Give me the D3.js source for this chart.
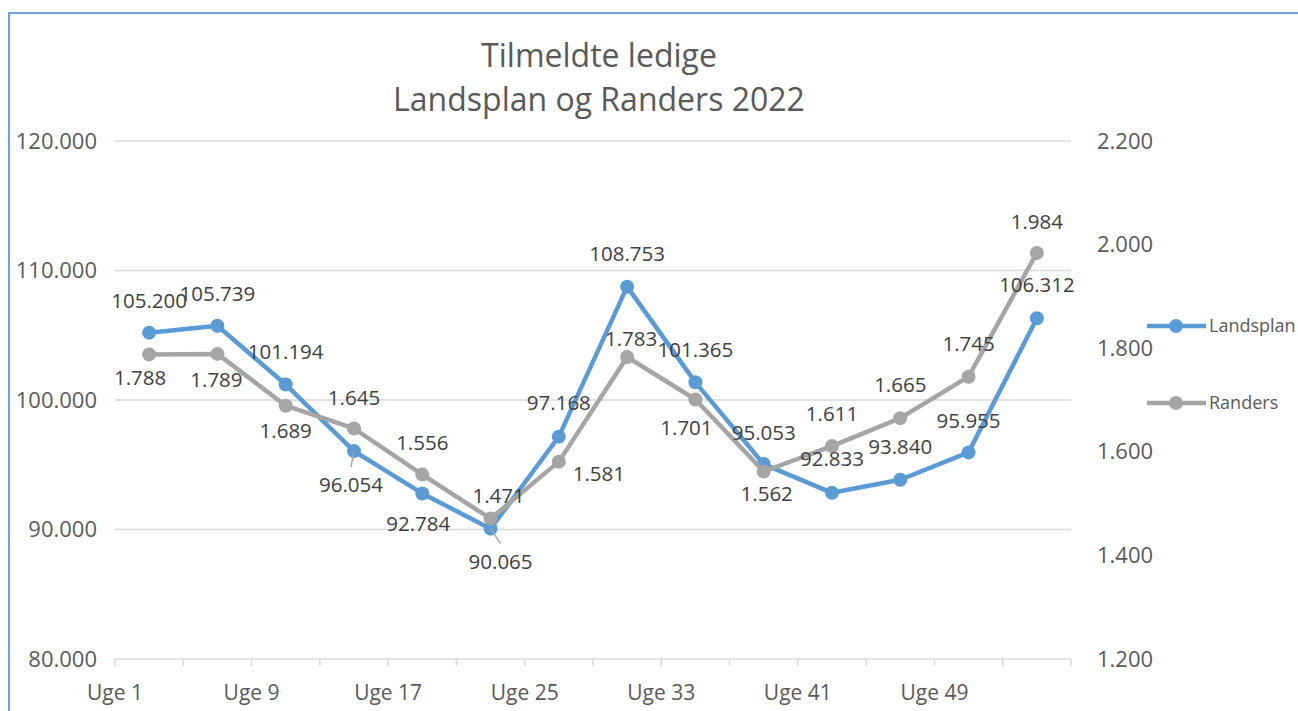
<!DOCTYPE html>
<html>
<head>
<meta charset="utf-8">
<script src="https://cdn.jsdelivr.net/npm/d3@7"></script>
<style>
  html, body { margin: 0; padding: 0; background: #fff; }
  svg { display: block; font-family: "Open Sans", "Noto Sans", sans-serif; }
</style>
</head>
<body>
<div id="chart"></div>
<script>
// weeks (every 4th week), only every other label is shown
var weeks = ["Uge 1", "Uge 5", "Uge 9", "Uge 13", "Uge 17", "Uge 21", "Uge 25",
             "Uge 29", "Uge 33", "Uge 37", "Uge 41", "Uge 45", "Uge 49", "Uge 52"];
var landsplan = [105200, 105739, 101194, 96054, 92784, 90065, 97168,
                 108753, 101365, 95053, 92833, 93840, 95955, 106312];
var randers = [1788, 1789, 1689, 1645, 1556, 1471, 1581,
               1783, 1701, 1562, 1611, 1665, 1745, 1984];
var leftTicks = [80000, 90000, 100000, 110000, 120000];
var rightTicks = [1200, 1400, 1600, 1800, 2000, 2200];

// label placement (offset of label centre from the point), like excel put them
var landLabelOff = [[0,-32],[0,-32],[0,-33],[-3,34],[-4,30],[10,33],[0,-34],
                    [0,-33],[0,-33],[0,-31],[0,-34],[0,-33],[0,-32],[0,-34]];
var randLabelOff = [[-9,23],[-1,26],[0,25],[0,-31],[0,-32],[8,-23],[40,12],
                    [4,-18],[-9,28],[3,22],[0,-32],[0,-34],[0,-33],[0,-31]];
var landLeader = [3, 5];

var W = 1298, H = 711;
var blue = "#5B9BD5", grey = "#A5A5A5";
var txt = "#595959", lbl = "#404040", grid = "#D9D9D9";
var fmt = d3.formatLocale({ decimal: ",", thousands: ".", grouping: [3], currency: ["", " kr."] }).format(",.0f");

var m = { left: 115, right: 1071, top: 141, bottom: 659 };

var svg = d3.select("#chart").append("svg")
  .attr("width", W).attr("height", H);

// chart border (only top/left visible)
svg.append("path")
  .attr("d", "M9," + (H + 5) + "V13H" + (W + 5))
  .attr("fill", "none")
  .attr("stroke", "#6FA3DA")
  .attr("stroke-width", 2);

// title
var title = svg.append("text")
  .attr("text-anchor", "middle")
  .attr("fill", txt)
  .style("font-size", "32px");
title.append("tspan").attr("x", 599).attr("y", 67).text("Tilmeldte ledige");
title.append("tspan").attr("x", 599).attr("y", 111).text("Landsplan og Randers 2022");

var x = d3.scaleBand().domain(weeks).range([m.left, m.right]);
var yL = d3.scaleLinear().domain([80000, 120000]).range([m.bottom, m.top]);
var yR = d3.scaleLinear().domain([1200, 2200]).range([m.bottom, m.top]);
var cx = function (d, i) { return x(weeks[i]) + x.bandwidth() / 2; };

// gridlines
svg.append("g").selectAll("line")
  .data(leftTicks.slice(1))
  .join("line")
  .attr("x1", m.left).attr("x2", m.right)
  .attr("y1", d => yL(d)).attr("y2", d => yL(d))
  .attr("stroke", grid).attr("stroke-width", 1.5);

// left axis
var axL = svg.append("g")
  .attr("transform", "translate(" + (m.left - 18) + ",0)")
  .call(d3.axisLeft(yL).tickValues(leftTicks).tickFormat(fmt).tickSize(0).tickPadding(0));
axL.select(".domain").remove();
axL.selectAll("text").attr("fill", txt).style("font-size", "22px").style("font-family", "Open Sans");

// right axis
var axR = svg.append("g")
  .attr("transform", "translate(" + (m.right + 26) + ",0)")
  .call(d3.axisRight(yR).tickValues(rightTicks).tickFormat(fmt).tickSize(0).tickPadding(0));
axR.select(".domain").remove();
axR.selectAll("text").attr("fill", txt).style("font-size", "22px").style("font-family", "Open Sans");

// x axis
var gx = svg.append("g").attr("transform", "translate(0," + m.bottom + ")");
gx.append("line")
  .attr("x1", m.left).attr("x2", m.right)
  .attr("stroke", grid).attr("stroke-width", 1.5);
gx.selectAll(".tk")
  .data(weeks.concat(["end"]))
  .join("line")
  .attr("class", "tk")
  .attr("x1", (d, i) => i < weeks.length ? x(d) : m.right)
  .attr("x2", (d, i) => i < weeks.length ? x(d) : m.right)
  .attr("y1", 0).attr("y2", 7)
  .attr("stroke", grid).attr("stroke-width", 1.5);
gx.selectAll(".xl")
  .data(weeks.filter((d, i) => i % 2 == 0))
  .join("text")
  .attr("class", "xl")
  .attr("x", d => x(d))
  .attr("y", 41)
  .attr("text-anchor", "middle")
  .attr("fill", txt)
  .style("font-size", "21px")
  .text(d => d);

function drawSeries(vals, y, color) {
  var g = svg.append("g");
  var line = d3.line().x(cx).y(d => y(d));
  g.append("path")
    .datum(vals)
    .attr("d", line)
    .attr("fill", "none")
    .attr("stroke", color)
    .attr("stroke-width", 4.5)
    .attr("stroke-linejoin", "round");
  g.selectAll("circle")
    .data(vals)
    .join("circle")
    .attr("cx", cx)
    .attr("cy", d => y(d))
    .attr("r", 7)
    .attr("fill", color);
  return g;
}

function drawLabels(vals, y, offs, leaders) {
  var g = svg.append("g");
  (leaders || []).forEach(function (i) {
    var px = cx(null, i), py = y(vals[i]);
    g.append("line")
      .attr("x1", px).attr("y1", py)
      .attr("x2", px + offs[i][0]).attr("y2", py + offs[i][1] - 18)
      .attr("stroke", "#A6A6A6").attr("stroke-width", 1.5);
  });
  g.selectAll("text")
    .data(vals)
    .join("text")
    .attr("x", (d, i) => cx(d, i) + offs[i][0])
    .attr("y", (d, i) => y(d) + offs[i][1])
    .attr("dy", "0.36em")
    .attr("text-anchor", "middle")
    .attr("fill", lbl)
    .style("font-size", "20.5px")
    .text(d => fmt(d));
}

drawSeries(landsplan, yL, blue);
drawSeries(randers, yR, grey);
drawLabels(landsplan, yL, landLabelOff, landLeader);
drawLabels(randers, yR, randLabelOff);

// legend
var legend = [{ name: "Landsplan", color: blue, y: 326 }, { name: "Randers", color: grey, y: 403 }];
var lg = svg.append("g").selectAll("g").data(legend).join("g")
  .attr("transform", d => "translate(1147," + d.y + ")");
lg.append("line").attr("x1", 0).attr("x2", 59)
  .attr("stroke", d => d.color).attr("stroke-width", 4.5);
lg.append("circle").attr("cx", 29).attr("r", 7).attr("fill", d => d.color);
lg.append("text").attr("x", 62).attr("dy", "0.35em")
  .attr("fill", txt).style("font-size", "18px")
  .text(d => d.name);
</script>
</body>
</html>
